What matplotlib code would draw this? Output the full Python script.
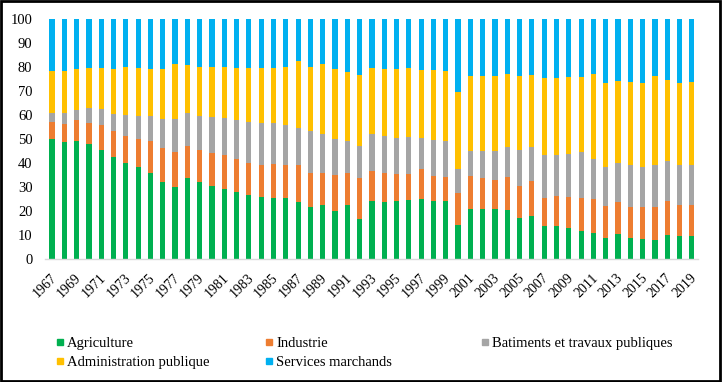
import matplotlib
matplotlib.use("Agg")
import matplotlib.pyplot as plt
from matplotlib.patches import Rectangle
from matplotlib.lines import Line2D
import matplotlib.transforms as mtrans
import numpy as np

years = list(range(1967, 2020))
# cumulative tops
agri_top = [50.0, 48.8, 49.3, 47.9, 45.4, 42.6, 40.0, 38.5, 36.0, 32.1, 30.1, 33.9, 32.1, 30.6, 29.2, 28.1, 26.8, 25.8, 25.6, 25.6,
            23.6, 21.8, 22.5, 20.1, 22.5, 16.7, 24.2, 23.6, 24.0, 24.7, 24.9, 24.2, 24.2, 14.0, 21.0, 20.8, 21.0, 20.6, 17.1, 18.1,
            13.6, 13.6, 12.9, 11.5, 10.7, 8.9, 10.6, 8.75, 8.5, 8.1, 10.0, 9.7, 9.4]
ind_top = [56.9, 56.4, 57.9, 56.8, 55.8, 53.2, 51.4, 50.1, 49.2, 46.4, 44.7, 47.2, 45.3, 44.2, 43.2, 41.7, 40.1, 39.0, 39.4, 39.2,
           39.0, 35.7, 36.0, 34.9, 36.0, 33.6, 36.5, 35.7, 35.6, 35.6, 37.5, 34.4, 34.2, 27.5, 34.7, 33.9, 33.1, 34.3, 30.3, 32.4,
           25.6, 26.1, 25.7, 25.3, 24.9, 22.2, 23.6, 21.5, 21.7, 21.5, 24.0, 22.6, 22.4]
btp_top = [60.8, 60.8, 62.2, 62.9, 62.4, 60.6, 59.9, 59.6, 59.6, 58.3, 58.3, 60.8, 59.7, 59.2, 58.6, 57.8, 57.2, 56.8, 56.5, 55.8,
           54.4, 53.5, 52.2, 50.1, 49.0, 47.2, 52.2, 51.3, 50.6, 51.0, 50.3, 49.6, 49.3, 37.4, 45.1, 45.0, 45.0, 46.8, 45.6, 46.7,
           43.3, 43.3, 43.9, 44.7, 41.5, 38.5, 40.1, 39.3, 38.5, 39.0, 40.8, 39.0, 39.2]
adm_top = [78.5, 78.3, 79.2, 79.7, 79.7, 79.3, 79.9, 79.6, 79.3, 79.0, 81.4, 80.8, 80.1, 80.1, 80.1, 79.7, 79.7, 79.7, 79.7, 80.0,
           82.5, 80.1, 81.4, 79.2, 78.1, 76.7, 79.4, 79.2, 79.2, 79.4, 78.75, 78.75, 78.3, 69.6, 76.4, 76.25, 76.25, 77.1, 76.4, 76.8,
           75.6, 75.6, 75.8, 76.0, 77.2, 73.3, 74.2, 73.75, 73.3, 76.1, 74.4, 73.5, 73.75]

agri = np.array(agri_top)
ind = np.array(ind_top) - np.array(agri_top)
btp = np.array(btp_top) - np.array(ind_top)
adm = np.array(adm_top) - np.array(btp_top)
serv = 100 - np.array(adm_top)

series = [("Agriculture", agri, "#00B050"),
          ("Industrie", ind, "#ED7D31"),
          ("Batiments et travaux publiques", btp, "#A5A5A5"),
          ("Administration publique", adm, "#FFC000"),
          ("Services marchands", serv, "#00B0F0")]

plt.rcParams['font.family'] = ['Liberation Serif', 'DejaVu Serif']

W, H = 723, 382
fig = plt.figure(figsize=(W/100, H/100), dpi=100)
ax = fig.add_axes([45/W, 1-259/H, (698-45)/W, (259-19)/H])

x = np.arange(len(years))
bottom = np.zeros(len(years))
handles = {}
for name, vals, col in series:
    ax.bar(x, vals, bottom=bottom, width=0.42, color=col, edgecolor='none')
    bottom = bottom + vals
    handles[name] = Line2D([], [], marker='s', linestyle='none', markersize=5, color=col, label=name)

ax.set_ylim(0, 100)
ax.set_xlim(-0.57, len(years)-0.5)
ax.set_yticks(range(0, 101, 10))
ax.tick_params(axis='y', length=0, labelsize=10.5, pad=9)
ax.set_xticks(x[::2])
ax.set_xticklabels([str(y) for y in years[::2]], rotation=45, ha='right', va='top',
                   rotation_mode='anchor', fontsize=10)
ax.tick_params(axis='x', length=0, pad=9)
off = mtrans.ScaledTranslation(-2/100, 0, fig.dpi_scale_trans)
for lab in ax.get_xticklabels():
    lab.set_transform(lab.get_transform() + off)
for s in ['top', 'right', 'left']:
    ax.spines[s].set_visible(False)
ax.spines['bottom'].set_color('#D9D9D9')
ax.spines['bottom'].set_linewidth(1)

cols = [(["Agriculture", "Administration publique"], 54),
        (["Industrie", "Services marchands"], 263),
        (["Batiments et travaux publiques"], 479)]
for names, px in cols:
    fig.legend(handles=[handles[n] for n in names], loc='upper left',
               bbox_to_anchor=(px/W, 1-337/H), frameon=False, fontsize=10.5,
               handletextpad=0.1, handlelength=0.8, borderpad=0, borderaxespad=0,
               labelspacing=0.4)

fig.patches.append(Rectangle((0.002, 0.003), 0.994, 0.994, transform=fig.transFigure,
                             fill=False, edgecolor='black', linewidth=2))
fig.savefig("out.png", dpi=100)
